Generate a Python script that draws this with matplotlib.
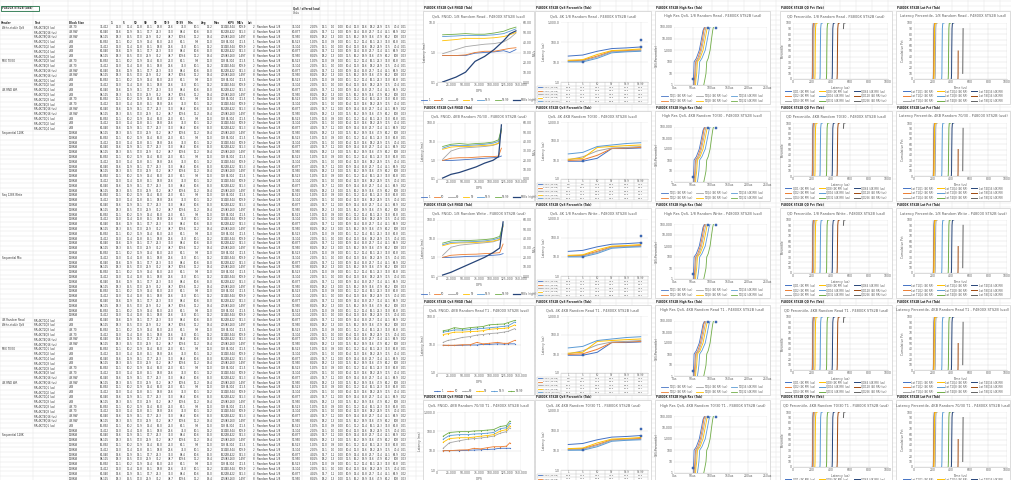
import numpy as np
import matplotlib.pyplot as plt
from matplotlib.patches import Rectangle
from matplotlib.ticker import NullLocator, FuncFormatter

W, H = 1011, 480
ROW_H = 4.8

# ---------------- spreadsheet contents (illegible in the reference, estimated) ----------------
sheet_title = "P4800X STS2B (usd)"
sheet_head = ["Header", "Test", "Block Size", "", "1", "5", "50", "90", "99", "99.9", "99.99",
              "Min", "Avg", "Max", "IOPS", "MB/s", "Lat"]
group_labels = {4: "4K Random Read", 5: "Write-stable QoS", 12: "MIX 70/30", 18: "4K RND WR",
                27: "Sequential 128K", 40: "Seq 128K Write", 53: "Sequential Mix",
                66: "4K Random Read", 67: "Write-stable QoS", 72: "MIX 70/30", 79: "4K RND WR",
                90: "Sequential 128K"}
test_names = ["RR-4K-T1Q1 (us)", "RR-4K-T1Q2 (us)", "RR-4K-T1Q4 (us)", "RR-4K-T1Q8 (us)",
              "RR-4K-T2Q8 (us)", "RR-4K-T4Q8 (us)", "RR-4K-T4Q16 (us)", "RR-4K-T8Q16 (us)"]
block_names = ["4KB", "4KB", "4KB", "4KB", "4K 70", "4K 70", "4K RW", "4K RW"]
seq_names = ["128KiB", "128KiB", "128KiB", "128KiB"]
left_nums = [
    ["16,892", "12.1", "10.2", "11.9", "13.4", "16.0", "21.0", "62.1", "9.8", "12.0", "118", "82,304", "321.5"],
    ["33,412", "13.0", "11.4", "12.8", "15.1", "18.8", "25.6", "71.0", "10.1", "13.2", "131", "130,544", "509.9"],
    ["61,040", "14.6", "12.9", "14.1", "17.7", "24.3", "33.0", "88.4", "10.6", "15.0", "162", "238,422", "931.3"],
    ["98,115", "18.3", "15.5", "17.0", "22.9", "35.2", "48.7", "109.6", "11.2", "19.4", "205", "383,260", "1,497"],
]
mid_nums = [
    ["1", "Random Read 1/8", "16,523", "1", "0.0%", "12.0", "0.9", "1.00", "10.1", "11.2", "12.4", "16.1", "21.3", "33.0", "62.8", "0.01"],
    ["2", "Random Read 1/8", "33,104", "2", "0.0%", "13.1", "1.0", "1.00", "10.4", "12.0", "13.6", "18.2", "24.9", "37.5", "70.4", "0.01"],
    ["4", "Random Read 1/8", "60,877", "4", "0.1%", "14.7", "1.1", "1.00", "10.9", "13.4", "15.8", "23.7", "32.4", "46.1", "86.9", "0.02"],
    ["8", "Random Read 1/8", "97,950", "8", "0.1%", "18.2", "1.3", "1.00", "11.5", "16.2", "19.9", "34.6", "47.9", "62.2", "108", "0.03"],
]
left_edges = [0, 33, 68, 90, 110, 122, 133, 143, 153, 163, 175, 187, 200, 213, 227, 236, 247]
mid_edges = [247, 256, 292, 302, 312, 320, 328, 336, 344, 352, 360, 368, 376, 384, 392, 400, 408, 416]

# ---------------- chart data ----------------
workloads = ["1/8 Random Read", "4KB Random 70/30", "1/8 Random Write",
             "4KB Random Read T1", "4KB Random 70/30 T1"]
pct_names = ["1", "50", "90", "99", "99.9", "99.99"]

# column 1: latency percentiles (ms) vs IOPS, MB/s on the right axis
iops_r1 = [10000, 34000, 51000, 68000, 85000, 102000, 119000, 130000, 141000]
lat_r1 = [
    [0.79, 0.79, 0.79, 0.95, 1.00, 1.05, 1.15, 1.00, 1.26],
    [0.79, 0.79, 0.83, 1.00, 1.10, 1.10, 1.26, 1.38, 1.45],
    [0.91, 1.26, 1.58, 1.74, 1.91, 2.00, 2.29, 3.02, 4.57],
    [2.51, 2.75, 3.02, 3.02, 3.02, 3.16, 3.47, 3.98, 4.79],
    [3.47, 3.63, 3.80, 3.80, 3.80, 3.98, 4.37, 5.25, 6.31],
    [3.98, 4.17, 4.37, 4.17, 4.17, 4.57, 5.25, 6.31, 7.24],
]
mbps_r1 = [0, 5, 10, 21, 26, 33, 42, 49, 52]

iops_r2 = [10000, 25000, 40000, 55000, 70000, 85000, 100000, 110000, 115000]
lat_r2 = [
    [0.98, 0.98, 1.04, 1.12, 1.20, 1.29, 1.38, 1.48, 1.70],
    [0.98, 1.29, 1.38, 1.38, 1.48, 1.58, 1.58, 1.70, 4.47],
    [1.12, 3.16, 4.47, 4.79, 5.13, 5.50, 6.31, 7.94, 39.8],
    [3.89, 5.13, 5.50, 5.50, 5.89, 6.31, 6.76, 8.32, 39.8],
    [4.47, 6.31, 6.31, 6.31, 6.76, 7.24, 8.32, 10.2, 45.7],
    [5.50, 7.24, 7.94, 7.24, 7.94, 8.32, 9.55, 12.6, 52.5],
]
mbps_r2 = [1, 5, 7, 10, 13, 17, 20, 24, 58]

iops_r3 = [10000, 25000, 40000, 55000, 70000, 85000, 100000, 112000, 118000]
lat_r3 = [
    [0.98, 1.00, 1.05, 1.12, 1.15, 1.20, 1.29, 1.38, 1.58],
    [1.00, 1.29, 1.38, 1.45, 1.48, 1.58, 1.66, 1.78, 5.13],
    [1.26, 3.47, 4.47, 5.01, 5.50, 6.03, 6.76, 8.71, 44.7],
    [4.17, 5.50, 5.89, 6.03, 6.31, 6.76, 7.41, 9.12, 47.9],
    [4.79, 6.31, 6.61, 6.76, 7.08, 7.59, 8.71, 11.0, 52.5],
    [5.75, 7.59, 8.13, 7.94, 8.32, 8.91, 10.0, 13.2, 60.3],
]
mbps_r3 = [1, 4, 8, 12, 16, 20, 25, 30, 58]

iops_r4 = [11000, 20000, 31000, 45000, 59000, 71000, 82000, 93000, 108000, 119000, 127000, 139000]
lat_r4 = [
    [9.8, 9.6, 9.6, 9.8, 10.0, 10.0, 10.5, 10.5, 11.0, 10.7, 11.0, 11.0],
    [9.8, 9.8, 9.8, 10.2, 10.2, 12.4, 11.0, 11.5, 12.4, 11.5, 11.5, 14.7],
    [12.4, 14.7, 15.8, 18.6, 20.0, 22.6, 23.7, 25.5, 26.8, 28.8, 30.9, 38.5],
    [23.7, 25.5, 28.8, 28.8, 30.2, 30.9, 32.4, 36.3, 38.5, 39.4, 41.1, 52.1],
    [28.8, 30.9, 34.7, 34.0, 35.7, 38.0, 39.4, 41.1, 44.0, 46.4, 48.7, 66.4],
    [32.4, 34.7, 41.7, 38.0, 41.7, 43.7, 45.7, 52.5, 55.0, 56.2, 63.1, 75.9],
]

iops_r5 = [11000, 22000, 40000, 55000, 66000, 78000, 90000, 101000, 113000, 124000, 130000]
lat_r5 = [
    [10.0, 10.0, 10.0, 10.4, 10.8, 11.1, 11.6, 12.0, 13.3, 13.3, 13.3],
    [10.0, 10.0, 10.8, 11.1, 13.3, 12.4, 14.3, 16.0, 16.0, 17.1, 25.5],
    [13.3, 25.5, 32.7, 39.2, 42.1, 45.1, 50.4, 56.2, 80.5, 96.6, 154],
    [27.4, 42.1, 46.8, 46.8, 50.4, 56.2, 60.7, 67.4, 104, 123, 199],
    [39.2, 60.7, 67.4, 67.4, 72.8, 75.0, 80.5, 86.9, 138, 154, 255],
    [56.2, 86.9, 96.6, 96.6, 104, 108, 116, 123, 178, 199, 339],
]

# column 2: latency (us) at percentile, with data table
qos_cats = ["1", "5", "50", "99", "99.9", "99.99"]
qos_names = ["T1Q1 (4K RR)", "T1Q2 (4K RR)", "T1Q4 (4K RR)", "T1Q8 (4K RR)", "T1Q16 (4K RR)"]
qos_a = [
    [19.8, 22.3, 34.4, 47.0, 50.6, 56.5],
    [11.3, 12.2, 19.8, 34.4, 37.3, 40.1],
    [10.5, 11.3, 17.7, 32.2, 34.4, 37.3],
    [12.2, 13.1, 23.8, 37.3, 40.1, 45.1],
    [10.1, 10.1, 15.3, 28.8, 32.2, 34.4],
]
qos_a_mark_x = [2, 6, 6]
qos_a_mark_y = [10.1, 126, 56.5]
qos_b = [
    [8.6, 8.6, 12.3, 40.0, 40.0, 43.0],
    [9.5, 10.2, 17.6, 40.0, 43.0, 46.0],
    [10.2, 14.7, 30.0, 43.0, 46.0, 51.3],
    [11.0, 12.3, 46.0, 51.3, 57.0, 61.7],
    [20.9, 25.1, 51.3, 61.7, 73.6, 81.2],
]
qos_b_mark_x = [2]
qos_b_mark_y = [8.6]

# column 3: high resolution percentile (1/(1-p)) vs latency (us)
hr_nines = [1, 3, 10, 100, 200, 1000, 10000, 50000, 100000]
hr_lat = [
    [52, 52, 53, 54, 60, 68, 74, 78, 82],
    [54, 55, 56, 58, 64, 71, 77, 80, 84],
    [56, 57, 58, 60, 67, 74, 80, 84, 86],
    [58, 59, 61, 63, 70, 78, 84, 88, 90],
    [63, 65, 67, 69, 75, 84, 90, 94, 97],
    [80, 83, 86, 88, 92, 97, 101, 104, 106],
]
hr_names = ["T1Q1 (4K RR) (us)", "T1Q2 (4K RR) (us)", "T1Q4 (4K RR) (us)",
            "T1Q8 (4K RR) (us)", "T1Q16 (4K RR) (us)", "T1Q32 (4K RR) (us)"]
hr_mark_x = [52, 92, 112]
hr_mark_y = [3, 90000, 90000]

# column 4 / 5: percentile (0-100) vs latency (us)
qd_pct = [0, 1, 10, 50, 90, 99, 99.9, 99.99]
qd_lat = [
    [200, 202, 204, 206, 208, 212, 218, 226],
    [203, 205, 207, 209, 212, 216, 222, 230],
    [212, 214, 216, 218, 221, 226, 232, 240],
    [228, 230, 232, 234, 237, 242, 248, 256],
    [282, 284, 286, 288, 291, 296, 302, 310],
    [350, 352, 354, 356, 359, 364, 370, 378],
    [410, 412, 414, 416, 419, 424, 430, 438],
    [462, 464, 466, 468, 471, 476, 482, 490],
    [None, None, None, None, 531, 534, 540, 548],
]
qd_names = ["QD1 (4K RR) (us)", "QD2 (4K RR) (us)", "QD4 (4K RR) (us)",
            "QD8 (4K RR) (us)", "QD16 (4K RR) (us)", "QD32 (4K RR) (us)",
            "QD64 (4K RR) (us)", "QD128 (4K RR) (us)", "QD256 (4K RR) (us)"]
lp_lat = [
    [205, 207, 209, 211, 214, 218, 224, 232],
    [208, 210, 212, 214, 217, 221, 227, 235],
    [225, 227, 229, 231, 234, 238, 244, 252],
    [212, 214, 216, 218, 221, 226, 232, 240],
    [296, 298, 300, 302, 305, 309, 315, 323],
    [366, 368, 370, 372, 375, 379, 385, 393],
    [400, 402, 404, 406, 409, 413, 419, 427],
    [472, 473, 474, 475, None, None, None, None],
    [None, None, 524, 526, 528, None, None, None],
]
lp_names = ["Lat T1Q1 (4K RR)", "Lat T1Q2 (4K RR)", "Lat T1Q4 (4K RR)",
            "Lat T2Q4 (4K RR)", "Lat T2Q8 (4K RR)", "Lat T4Q8 (4K RR)",
            "Lat T4Q16 (4K RR)", "Lat T8Q16 (4K RR)", "Lat T8Q32 (4K RR)"]

strip_labels = ["P4800X STS2B QoS FNGD (Tab)", "P4800X STS2B QoS Percentile (Tab)",
                "P4800X STS2B High Res (Tab)", "P4800X STS2B QD Pct (Tab)",
                "P4800X STS2B Lat Pct (Tab)"]

XL = ['#4472C4', '#ED7D31', '#A5A5A5', '#FFC000', '#5B9BD5', '#70AD47', '#264478', '#9E480E', '#636363']
TXT = '#595959'

# ---------------- layout (pixels) ----------------
COLS = [(423, 534), (535, 651), (655, 770), (780, 892), (896, 1010)]
ROWS = [(11, 104), (111, 201), (208, 298), (305, 395), (400, 492)]
PAD = [(14, 12, 13, 22), (26, 11, 3, 22), (19, 16, 3, 19), (13, 12, 4, 25), (18, 12, 3, 25)]

fig = plt.figure(figsize=(W / 100, H / 100), dpi=100)
plt.rcParams['font.family'] = ['DejaVu Sans']

bg = fig.add_axes([0, 0, 1, 1])
bg.set_xlim(0, W)
bg.set_ylim(H, 0)
bg.axis('off')

# sheet gridlines
n_rows = int(H / ROW_H) + 1
bg.hlines([1 + k * ROW_H for k in range(n_rows + 1)], 0, W, color='#e2e2e2', lw=0.3, zorder=1)
chart_edges = list(range(424, W, 16))
bg.vlines(left_edges + mid_edges + chart_edges, 0, H, color='#e2e2e2', lw=0.3, zorder=1)


def cell(x, k, s, ha='left', bold=False):
    bg.text(x, 1 + k * ROW_H + ROW_H / 2, s, fontsize=1.9, ha=ha, va='center', color='#333333',
            fontweight='bold' if bold else 'normal', zorder=1, clip_on=True)


# title cell with selection box
cell(2, 1, sheet_title, bold=True)
bg.add_patch(Rectangle((1, 1 + ROW_H), 38, ROW_H, fill=False, edgecolor='#217346', lw=0.6, zorder=2))
for j, s in enumerate(sheet_head):
    cell(left_edges[j] + 1, 4, s, bold=True)
cell(mid_edges[2] + 1, 1, "QoS / offered load", bold=True)
cell(mid_edges[2] + 1, 2, "Units", bold=False)
for k in range(5, n_rows):
    if k in group_labels:
        cell(2, k, group_labels[k])
    named = 5 <= k <= 26 or 66 <= k <= 88
    if named:
        cell(left_edges[1] + 1, k, test_names[k % len(test_names)])
        cell(left_edges[2] + 1, k, block_names[k % len(block_names)])
    else:
        cell(left_edges[2] + 1, k, seq_names[k % len(seq_names)])
    vals = left_nums[k % len(left_nums)]
    for j, v in enumerate(vals):
        cell(left_edges[j + 4] - 1, k, v, ha='right')
    mv = mid_nums[k % len(mid_nums)]
    cell(mid_edges[0] + 7, k, mv[0], ha='right')
    cell(mid_edges[1] + 1, k, mv[1])
    for j, v in enumerate(mv[2:]):
        if j + 3 < len(mid_edges):
            cell(mid_edges[j + 3] - 1, k, v, ha='right')


def frame(c, r):
    x0, x1 = COLS[c]
    y0, y1 = ROWS[r]
    bg.add_patch(Rectangle((x0, y0), x1 - x0, y1 - y0, facecolor='white',
                           edgecolor='#cfcfcf', lw=0.5, zorder=2))
    bg.text(x0 + 1, y0 - 3.2, strip_labels[c], fontsize=2, fontweight='bold',
            color='#222222', va='center', zorder=3)
    l, t, rr, b = PAD[c]
    px0, py0, px1, py1 = x0 + l, y0 + t, x1 - rr, y1 - b
    ax = fig.add_axes([px0 / W, 1 - py1 / H, (px1 - px0) / W, (py1 - py0) / H])
    return ax, (x0, y0, x1, y1), (px0, py0, px1, py1)


def style(ax, xgrid=False):
    for side in ['top', 'right', 'left']:
        ax.spines[side].set_visible(False)
    ax.spines['bottom'].set_color('#bfbfbf')
    ax.spines['bottom'].set_linewidth(0.4)
    ax.yaxis.grid(True, color='#d9d9d9', lw=0.3)
    ax.xaxis.grid(xgrid, color='#d9d9d9', lw=0.3)
    ax.set_axisbelow(True)
    ax.tick_params(labelsize=2.2, length=0, pad=1, colors=TXT)
    ax.yaxis.set_minor_locator(NullLocator())
    ax.xaxis.set_minor_locator(NullLocator())
    ax.set_facecolor('none')


def title(box, s):
    x0, y0, x1, y1 = box
    bg.text((x0 + x1) / 2, y0 + 5.5, s, fontsize=2.5, color=TXT, ha='center', va='center', zorder=3)


def legend(ax, handles, labels, box, ncol, dy):
    x0, y0, x1, y1 = box
    ax.legend(handles, labels, loc='center', bbox_to_anchor=((x0 + x1) / 2 / W, 1 - (y1 - dy) / H),
              bbox_transform=fig.transFigure, ncol=ncol, fontsize=1.9, frameon=False,
              handlelength=2.4, handletextpad=0.5, columnspacing=1.4, labelspacing=0.35, borderpad=0,
              labelcolor=TXT)


logfmt = FuncFormatter(lambda v, p: f"{v:,.1f}")


def load_chart(r, x, lat, mbps, ylim, markers):
    ax, box, _ = frame(0, r)
    hs = []
    for k, s in enumerate(lat):
        h, = ax.plot(x, s, color=XL[k], lw=0.6, marker='o' if markers else None, ms=0.9, mew=0)
        hs.append(h)
    ax.set_yscale('log')
    ax.set_ylim(*ylim)
    dec = np.log10(ylim[1] / ylim[0])
    ax.set_yticks([ylim[0] * 10 ** i for i in range(int(round(dec)) + 1)])
    ax.yaxis.set_major_formatter(logfmt)
    ax.set_xlim(0, 150000)
    ax.set_xticks(range(0, 150001, 25000))
    ax.set_xticklabels([f"{v:,}" for v in range(0, 150001, 25000)])
    style(ax, xgrid=True)
    ax.set_ylabel('Latency (ms)', fontsize=2.2, labelpad=1, color=TXT)
    ax.set_xlabel('IOPS', fontsize=2.2, labelpad=1, color=TXT)
    names = list(pct_names)
    if mbps is not None:
        ax2 = ax.twinx()
        h, = ax2.plot(x, mbps, color=XL[6], lw=0.9)
        hs.append(h)
        names.append('MB/s (right)')
        ax2.set_ylim(0, 60)
        ax2.set_yticks(range(0, 61, 10))
        ax2.yaxis.set_major_formatter(FuncFormatter(lambda v, p: f"{v:.2f}"))
        for sp in ax2.spines.values():
            sp.set_visible(False)
        ax2.tick_params(labelsize=2.2, length=0, pad=1, colors=TXT)
        ax2.set_ylabel('MB/s', fontsize=2.2, labelpad=1, color=TXT)
    legend(ax, hs, names, box, len(names), 4)
    title(box, f"QoS, FNGD, {workloads[r]} - P4800X STS2B (usd)")


def qos_chart(r, series, mx, my):
    ax, box, pbox = frame(1, r)
    x0, y0, x1, y1 = box
    px0, py0, px1, py1 = pbox
    cats = np.arange(1, len(qos_cats) + 1)
    for k, s in enumerate(series):
        ax.plot(cats, s, color=XL[k], lw=0.7)
    ax.plot(mx, my, ls='none', marker='s', ms=1.8, color='#4472C4', mec='#2F5597', mew=0.3, clip_on=False)
    ax.set_yscale('log')
    ax.set_ylim(1, 1000)
    ax.set_yticks([1, 10, 100, 1000])
    ax.yaxis.set_major_formatter(logfmt)
    ax.set_xlim(0.5, len(qos_cats) + 0.5)
    ax.set_xticks(cats)
    ax.set_xticklabels([])
    style(ax)
    ax.set_ylabel('Latency (us)', fontsize=2.2, labelpad=1, color=TXT)
    # data table under the plot
    n = len(series)
    rh = (y1 - 1 - py1) / (n + 1)
    cw = (px1 - px0) / len(qos_cats)
    ys = [py1 + i * rh for i in range(n + 2)]
    bg.hlines(ys[1:], x0 + 2, px1, color='#bfbfbf', lw=0.3, zorder=3)
    bg.vlines([px0 + j * cw for j in range(len(qos_cats) + 1)], py1, ys[-1], color='#bfbfbf', lw=0.3, zorder=3)
    bg.vlines([x0 + 2], ys[1], ys[-1], color='#bfbfbf', lw=0.3, zorder=3)
    for j, c in enumerate(qos_cats):
        bg.text(px0 + (j + 0.5) * cw, py1 + rh / 2, c, fontsize=1.9, ha='center', va='center', color=TXT, zorder=3)
    for i, s in enumerate(series):
        yc = py1 + (i + 1.5) * rh
        bg.plot([x0 + 3, x0 + 7], [yc, yc], color=XL[i], lw=0.6, zorder=3)
        bg.text(x0 + 8, yc, qos_names[i], fontsize=1.6, va='center', color=TXT, zorder=3)
        for j, v in enumerate(s):
            bg.text(px0 + (j + 0.5) * cw, yc, f"{v:.1f}", fontsize=1.7, ha='center', va='center',
                    color=TXT, zorder=3)
    title(box, f"QoS, 4K {workloads[r]} - P4800X STS2B (usd)")


def hires_chart(r):
    ax, box, _ = frame(2, r)
    hs = []
    for k, s in enumerate(hr_lat):
        h, = ax.plot(s, hr_nines, color=XL[k], lw=0.6)
        hs.append(h)
    ax.plot(hr_mark_x, hr_mark_y, ls='none', marker='s', ms=1.8, color='#4472C4', mec='#2F5597',
            mew=0.3, clip_on=False)
    ax.set_yscale('log')
    ax.set_ylim(1, 100000)
    ax.set_yticks([1, 10, 100, 1000, 10000, 100000])
    ax.yaxis.set_major_formatter(FuncFormatter(lambda v, p: f"{v:,.0f}"))
    ax.set_xlim(0, 250)
    ax.set_xticks(range(0, 251, 50))
    ax.set_xticklabels([f"{v}us" for v in range(0, 251, 50)])
    style(ax, xgrid=True)
    ax.set_ylabel('1/(1-Percentile)', fontsize=2.2, labelpad=1, color=TXT)
    legend(ax, hs, hr_names, box, 3, 6)
    title(box, f"High Res QoS, {workloads[r]} - P4800X STS2B (usd)")


def pct_chart(c, r, lat, names, ylab, xlab, ttl):
    ax, box, _ = frame(c, r)
    hs = []
    for k, s in enumerate(lat):
        h, = ax.plot(np.array(s, dtype=float), qd_pct, color=XL[k], lw=0.7)
        hs.append(h)
    ax.set_xlim(0, 1000)
    ax.set_xticks(range(0, 1001, 200))
    ax.set_ylim(0, 100)
    ax.set_yticks(range(0, 101, 10))
    style(ax, xgrid=True)
    ax.set_ylabel(ylab, fontsize=2.2, labelpad=1, color=TXT)
    ax.set_xlabel(xlab, fontsize=2.2, labelpad=1, color=TXT)
    legend(ax, hs, names, box, 3, 8)
    title(box, f"{ttl}, {workloads[r]} - P4800X STS2B (usd)")


load_chart(0, iops_r1, lat_r1, mbps_r1, (0.1, 10), False)
load_chart(1, iops_r2, lat_r2, mbps_r2, (0.1, 100), False)
load_chart(2, iops_r3, lat_r3, mbps_r3, (0.1, 100), False)
load_chart(3, iops_r4, lat_r4, None, (1, 100), True)
load_chart(4, iops_r5, lat_r5, None, (1, 1000), True)

for r in range(5):
    if r % 2 == 0:
        qos_chart(r, qos_a, qos_a_mark_x, qos_a_mark_y)
    else:
        qos_chart(r, qos_b, qos_b_mark_x, qos_b_mark_y)
    hires_chart(r)
    pct_chart(3, r, qd_lat, qd_names, 'Percentile', 'Latency (us)', 'QD Percentile')
    pct_chart(4, r, lp_lat, lp_names, 'Cumulative Pct', 'Time (us)', 'Latency Percentile')

fig.savefig('out.png', dpi=100)
